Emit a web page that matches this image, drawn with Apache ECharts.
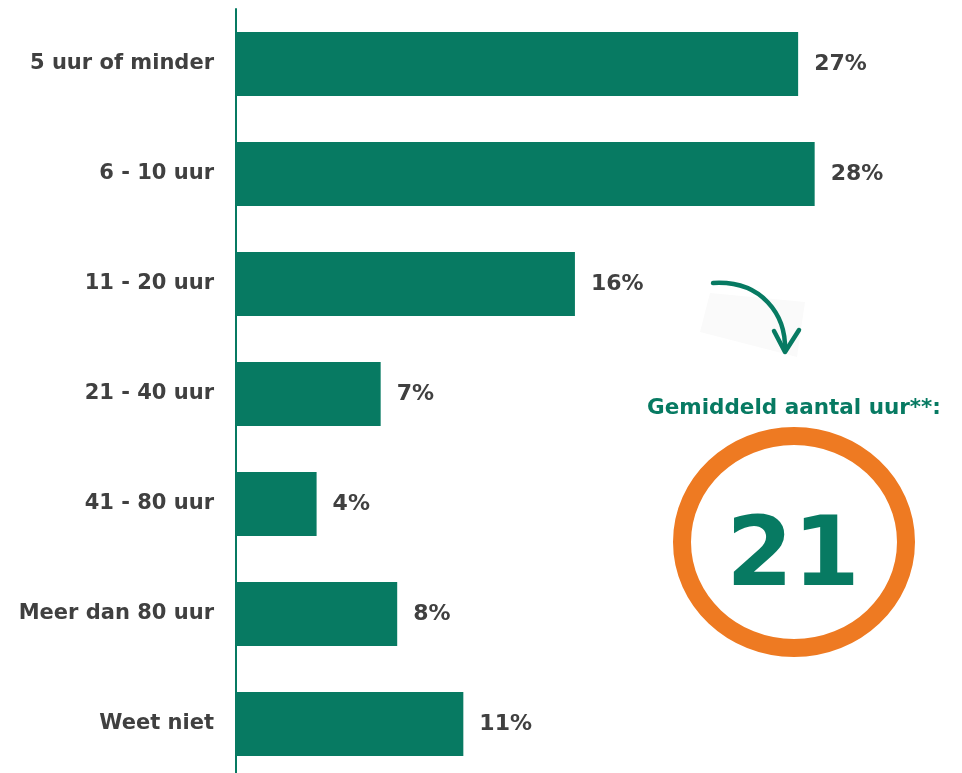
<!DOCTYPE html>
<html lang="nl">
<head>
    <meta charset="UTF-8">
    <title>Aantal uur</title>
    <script type="text/javascript" src="https://cdn.jsdelivr.net/npm/echarts@6/dist/echarts.min.js"></script>
    <style>
        body { margin: 0; background: #fff; }
    </style>
</head>
<body>
<div id="main" style="width: 962px;height:773px;"></div>
<script>
    // categorieen (van boven naar beneden)
    var categories = ['5 uur of minder', '6 - 10 uur', '11 - 20 uur', '21 - 40 uur', '41 - 80 uur', 'Meer dan 80 uur', 'Weet niet'];
    var values = [27.2, 28.0, 16.4, 7.0, 3.9, 7.8, 11.0];
    // labels zoals getoond
    var valueLabels = ['27%', '28%', '16%', '7%', '4%', '8%', '11%'];
    var averageTitle = 'Gemiddeld aantal uur**:';
    var averageValue = '21';

    var green = '#077a62';
    var grey = '#404040';
    var orange = '#ee7a22';
    var font = '"DejaVu Sans", Verdana, sans-serif';

    var option = {
        animation: false,
        grid: {
            left: 236,
            top: 9,
            bottom: -6,
            width: 620,
            outerBoundsMode: 'none',
            containLabel: false
        },
        xAxis: {
            type: 'value',
            min: 0,
            max: 30,
            show: false
        },
        yAxis: {
            type: 'category',
            inverse: true,
            data: categories,
            axisLine: { lineStyle: { color: green, width: 2 } },
            axisTick: { show: false },
            axisLabel: {
                margin: 22,
                color: grey,
                fontFamily: font,
                fontWeight: 'bold',
                fontSize: 21
            }
        },
        series: [
            {
                type: 'bar',
                data: values,
                barWidth: 64,
                itemStyle: { color: green },
                label: {
                    show: true,
                    position: 'right',
                    distance: 16,
                    color: grey,
                    fontFamily: font,
                    fontWeight: 'bold',
                    fontSize: 22,
                    formatter: function (p) {
                        return valueLabels[p.dataIndex];
                    }
                }
            }
        ],
        graphic: [
            {
                // lichte achtergrond achter de pijl
                type: 'polygon',
                shape: { points: [[710, 293], [805, 302], [797, 357], [700, 332]] },
                style: { fill: '#fafafa' },
                z: 1
            },
            {
                type: 'bezierCurve',
                shape: { x1: 713, y1: 283, cpx1: 762, cpy1: 280, cpx2: 786, cpy2: 315, x2: 785, y2: 350 },
                style: { stroke: green, lineWidth: 4.5, fill: null, lineCap: 'round' },
                z: 2
            },
            {
                type: 'polyline',
                shape: { points: [[774, 331], [785, 352], [799, 330]] },
                style: { stroke: green, lineWidth: 4.5, fill: null, lineCap: 'round', lineJoin: 'round' },
                z: 2
            },
            {
                type: 'text',
                style: {
                    x: 794, y: 408,
                    text: averageTitle,
                    fill: green,
                    font: 'bold 21.5px ' + font,
                    align: 'center',
                    verticalAlign: 'middle'
                },
                z: 2
            },
            {
                type: 'ellipse',
                shape: { cx: 794, cy: 542, rx: 112, ry: 106 },
                style: { stroke: orange, lineWidth: 18, fill: '#fff' },
                z: 2
            },
            {
                type: 'text',
                style: {
                    x: 793, y: 560,
                    text: averageValue,
                    fill: green,
                    font: 'bold 96px ' + font,
                    align: 'center',
                    verticalAlign: 'middle'
                },
                z: 3
            }
        ]
    };

    var myChart = echarts.init(document.getElementById('main'));
    myChart.setOption(option);
</script>
</body>
</html>
